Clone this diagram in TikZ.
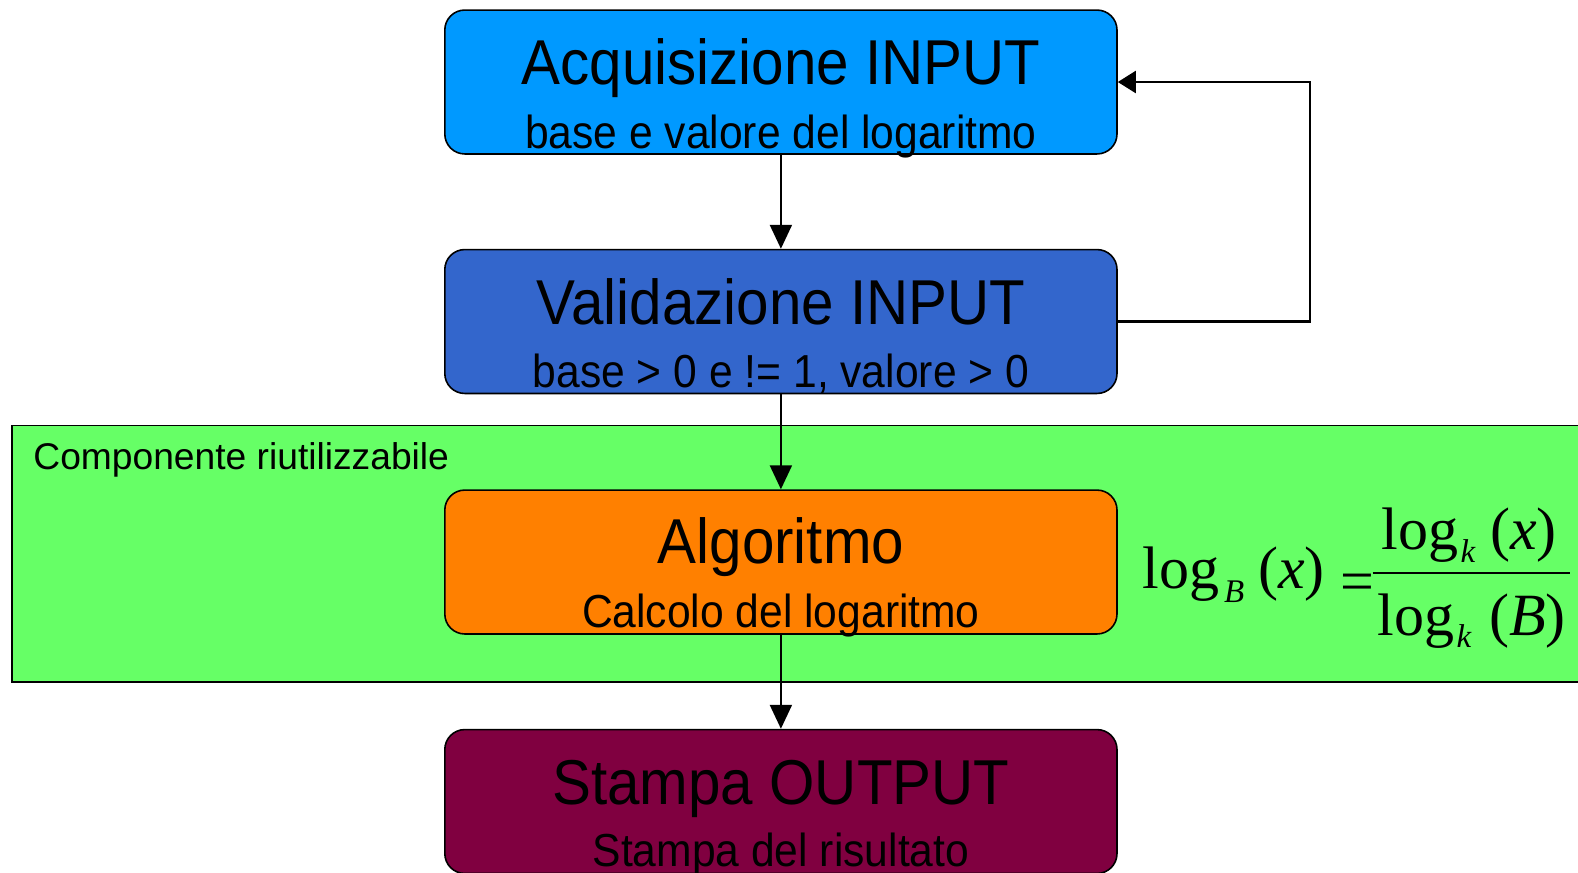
\documentclass[tikz,border=0pt]{standalone}
\usepackage{fontspec}
\setmainfont{Liberation Sans}
\newfontfamily\boxfont{Liberation Sans}[FakeStretch=0.92]
\newfontfamily\tnr{Liberation Serif}
\usetikzlibrary{arrows.meta,calc}
\definecolor{cacq}{RGB}{0,153,255}
\definecolor{cval}{RGB}{51,102,204}
\definecolor{calg}{RGB}{255,128,0}
\definecolor{cout}{RGB}{128,0,64}
\definecolor{cgreen}{RGB}{102,255,102}
% #1 subscript, #2 argument, #3 drop of subscript, #4 kern before subscript, #5 kern before paren
\newcommand\mylog[5]{log\kern#4\raisebox{-#3}{\fontsize{33bp}{33bp}\selectfont\itshape #1}\kern#5(\textit{#2})}
\begin{document}
\begin{tikzpicture}[x=1.0063bp,y=-1.0063bp,
  stepbox/.style={draw=black, line width=1.6pt, rounded corners=20bp, minimum width=672.2bp, minimum height=143.9bp, inner sep=0pt},
  ttl/.style={font=\boxfont\fontsize{63.4bp}{63.4bp}\selectfont, anchor=base, inner sep=0pt},
  sub/.style={font=\boxfont\fontsize{46.3bp}{46.3bp}\selectfont, anchor=base, inner sep=0pt},
  arr/.style={line width=2.2pt, -{Triangle[length=24bp,width=22bp]}},
  frm/.style={font=\tnr\fontsize{60bp}{60bp}\selectfont, anchor=base west, inner sep=0pt}]
\useasboundingbox (0,0) rectangle (1568.1,867.5);
\clip (0,0) rectangle (1568.1,867.5);
\fill[cgreen] (12,423) rectangle (1590,678);
\draw[line width=1.6pt] (1590,423) -- (12,423) -- (12,678) -- (1590,678);
\node[font=\fontsize{37.2bp}{37.2bp}\selectfont, anchor=base west, inner sep=0pt] (lbl) at (33,467) {Componente riutilizzabile};

\node[stepbox, fill=cacq] (acq) at (776,81.5) {};
\node[stepbox, fill=cval] (val) at (776,319.5) {};
\node[stepbox, fill=calg] (alg) at (776,558.5) {};
\node[stepbox, fill=cout] (out) at (776,796.5) {};

\node[ttl] (acqt) at ($(acq.north)+(0,75)$) {Acquisizione INPUT};
\node[sub] (acqs) at ($(acq.north)+(0,138)$) {base e valore del logaritmo};
\node[ttl] (valt) at ($(val.north)+(0,75)$) {Validazione INPUT};
\node[sub] (vals) at ($(val.north)+(0,138)$) {base > 0 e != 1, valore > 0};
\node[ttl] (algt) at ($(alg.north)+(0,74)$) {Algoritmo};
\node[sub] (algs) at ($(alg.north)+(0,137)$) {Calcolo del logaritmo};
\node[ttl] (outt) at ($(out.north)+(0,75)$) {Stampa OUTPUT};
\node[sub] (outs) at ($(out.north)+(0,137)$) {Stampa del risultato};

\draw[arr] (acq.south) -- (val.north);
\draw[arr] (val.south) -- (alg.north);
\draw[arr] (alg.south) -- (out.north);
\coordinate (fb) at (1302,0);
\draw[arr, -{Triangle[length=18bp,width=22bp]}] (val.east) -| (fb |- acq.east) -- (acq.east);

\node[frm] (lhs) at (1135,585) {\mylog{B}{x}{14bp}{5bp}{14bp}};
\node[frm] (eq) at (1332,598) {=};
\node[frm] (num) at (1373,546.5) {\mylog{k}{x}{13bp}{2bp}{15bp}};
\node[frm] (den) at (1369,632) {\mylog{k}{B}{12bp}{2bp}{18bp}};
\draw[line width=2pt] (1364,569) -- (1560,569);
\end{tikzpicture}
\end{document}
